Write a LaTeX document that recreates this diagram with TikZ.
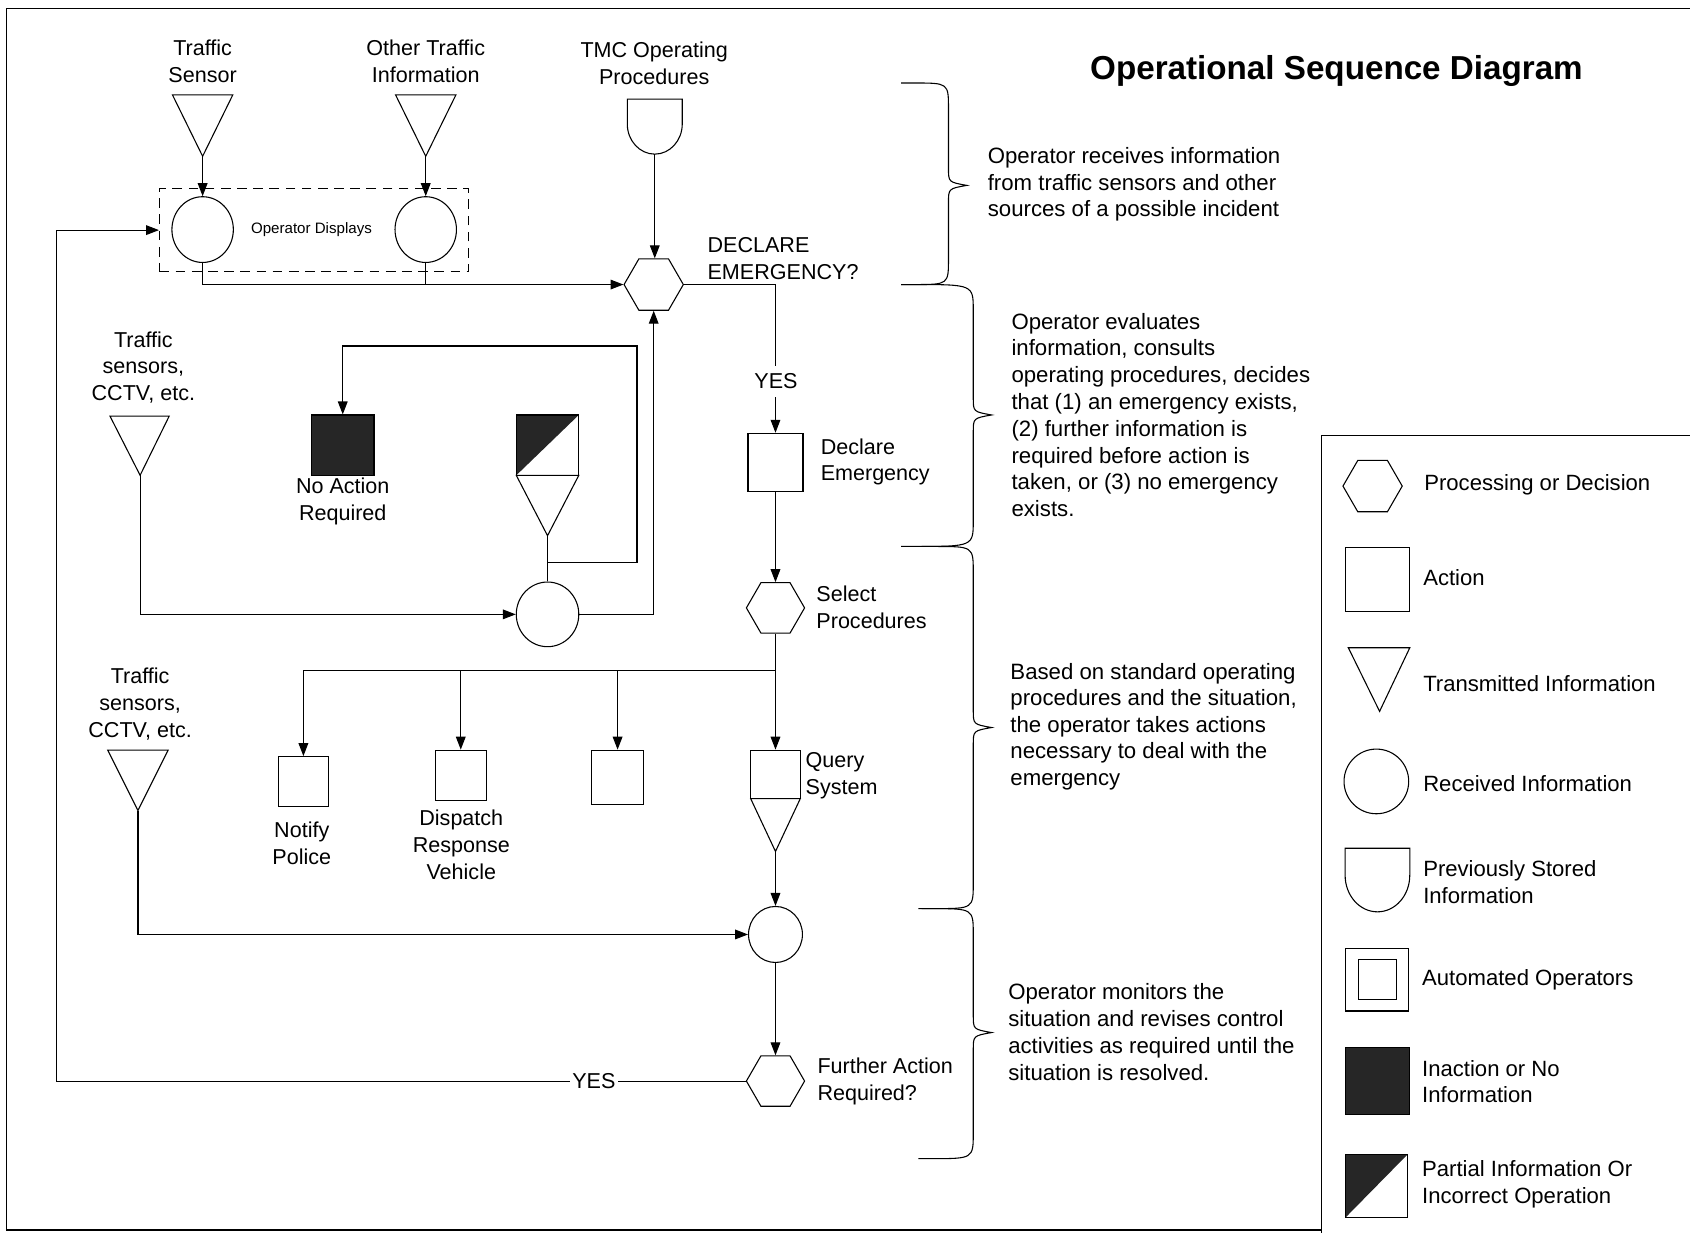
\documentclass[tikz,border=0pt]{standalone}
\usepackage{fontspec}
\setmainfont{Liberation Sans}
\usetikzlibrary{arrows.meta,shapes.geometric}
\newcommand\mybrace[6]{\draw (#1,#2) -- ({#1+12},#2) .. controls (#4,#2) .. (#4,{#2+24}) -- (#4,{#6-16}) .. controls (#4,{#6-3}) .. (#5,#6) .. controls (#4,{#6+3}) .. (#4,{#6+16}) -- (#4,{#3-24}) .. controls (#4,#3) .. ({#1+12},#3) -- (#1,#3);}
\begin{document}
\begin{tikzpicture}[x=1pt,y=-1pt, line width=1pt,
  arr/.style={-{Triangle[length=12pt,width=9pt]}},
  lbl/.style={font=\fontsize{20}{25}\selectfont, align=center, inner sep=0pt},
  txt/.style={font=\fontsize{20}{24.8}\selectfont, align=left, inner sep=0pt, anchor=west},
  lgt/.style={font=\fontsize{20.5}{25}\selectfont, align=left, inner sep=0pt, anchor=west},
  hex/.style={draw, regular polygon, regular polygon sides=6, minimum size=55pt, inner sep=0pt},
  rcv/.style={draw, ellipse, inner sep=0pt},
  act/.style={draw, rectangle, inner sep=0pt},
  dark/.style={fill=black!85}
]
\useasboundingbox (0,0) rectangle (1568,1144);
% frame
\draw[line width=1.5pt] (1568,8) -- (6,8) -- (6,1141) -- (1226,1141);
\draw[line width=1.3pt] (1568,404) -- (1226,404) -- (1226,1144);

% title
\node[font=\bfseries\fontsize{30.8}{32}\selectfont, inner sep=0pt] (title) at (1240,66) {Operational Sequence Diagram};

% top inputs
\node[lbl] (lts) at (188,57) {Traffic\\Sensor};
\node[lbl] (lot) at (395,57) {Other Traffic\\Information};
\node[lbl] (ltmc) at (607,59) {TMC Operating\\Procedures};
\draw (160,88) -- (216,88) -- (188,145) -- cycle; \coordinate (t1) at (188,145);
\draw (367,88) -- (423,88) -- (395,145) -- cycle; \coordinate (t2) at (395,145);
\draw (582,92) -- (582,115) .. controls (582,130.5) and (593.5,143) .. (607.5,143) .. controls (621.5,143) and (633,130.5) .. (633,115) -- (633,92) -- cycle;
\coordinate (tmc) at (607.5,143);

% operator displays
\node[draw, dash pattern=on 9pt off 6pt, minimum width=287pt, minimum height=77pt, inner sep=0pt] (dbox) at (291.5,213.5) {};
\node[rcv, minimum width=57pt, minimum height=61pt] (c1) at (188,213) {};
\node[rcv, minimum width=57pt, minimum height=61pt] (c2) at (395,213) {};
\node[font=\fontsize{14}{16}\selectfont, inner sep=0pt] (odl) at (289,213) {Operator Displays};

% declare emergency decision
\node[hex] (h1) at (606.5,264) {};
\node[txt] (lde) at (656,240) {DECLARE\\EMERGENCY?};

% middle left
\node[lbl] (lts2) at (133,341) {Traffic\\sensors,\\CCTV, etc.};
\draw (102,386) -- (157,386) -- (130,441) -- cycle; \coordinate (t3) at (130,441);
\node[act, dark, minimum width=58pt, minimum height=56pt] (noact) at (318,413) {};
\node[lbl] (lna) at (318,465) {No Action\\Required};
\fill[black!85] (479,385) -- (537,385) -- (479,441) -- cycle;
\node[act, minimum width=58pt, minimum height=56pt] (part) at (508,413) {};
\draw (479,441) -- (537,441) -- (508,497) -- cycle; \coordinate (pt) at (508,497);
\node[rcv, minimum width=58pt, minimum height=60pt] (c3) at (508,570) {};
\coordinate (j1) at (508,522);
\coordinate (k1) at (591,321);

% right column
\node[act, minimum width=51pt, minimum height=54pt] (decl) at (719.5,429) {};
\node[txt] (ldecl) at (761,428.5) {Declare\\Emergency};
\node[hex, minimum size=54pt] (sel) at (719.5,564) {};
\node[txt] (lsel) at (757,563.5) {Select\\Procedures};
\coordinate (br) at (719.5,622);

\node[act, minimum width=47pt, minimum height=46pt] (np) at (281.5,725) {};
\node[lbl] (lnp) at (280,782) {Notify\\Police};
\node[act, minimum width=47pt, minimum height=47pt] (disp) at (427.5,719.5) {};
\node[lbl] (ldisp) at (428,784) {Dispatch\\Response\\Vehicle};
\node[act, minimum width=48pt, minimum height=50pt] (b3) at (573,721) {};
\node[act, minimum width=46pt, minimum height=45pt] (query) at (719.5,718.5) {};
\draw (696.5,741) -- (742.5,741) -- (719.5,790) -- cycle; \coordinate (qt) at (719.5,790);
\node[txt] (lq) at (747,719.5) {Query\\System};

\node[lbl] (lts3) at (130,653) {Traffic\\sensors,\\CCTV, etc.};
\draw (100,696) -- (156,696) -- (128,752) -- cycle; \coordinate (t4) at (128,752);
\node[rcv, minimum width=50pt, minimum height=52pt] (c4) at (719.5,867) {};
\node[hex, minimum size=54pt] (h3) at (719.5,1003) {};
\node[txt] (lh3) at (758,1003.5) {Further Action\\Required?};
\coordinate (fb) at (52,0);

% connectors
\draw[arr] (t1) -- (c1.north);
\draw[arr] (t2) -- (c2.north);
\draw[arr] (tmc) -- (tmc |- h1.north);
\draw[arr] (c1.south) |- (h1.west);
\draw (c2.south) -- (c2.south |- h1.west);
\draw[arr] (h1.east) -| (decl.north);
\node[lbl, fill=white, inner xsep=2pt, inner ysep=7pt] (yes1) at (720,354) {YES};
\draw[arr] (decl.south) -- (sel.north);
\draw (sel.south) -- (br);
\draw[arr] (br) -- (query.north);
\draw[arr] (br) -| (np.north);
\draw[arr] (br) -| (disp.north);
\draw[arr] (br) -| (b3.north);
\draw[arr] (qt) -- (c4.north);
\draw[arr] (t4) |- (c4.west);
\draw[arr] (c4.south) -- (h3.north);
\draw[arr] (h3.west) -- (h3.west -| fb) |- (dbox.west);
\node[lbl, fill=white, inner xsep=2pt, inner ysep=3pt] (yes2) at (551,1003) {YES};
\draw[arr] (t3) |- (c3.west);
\draw[arr] (c3.east) -| (h1.south);
\draw (pt) -- (c3.north);
\draw[arr] (j1) -| (k1) -| (noact.north);

% braces and descriptions
\mybrace{836}{77}{264}{880}{897}{172}
\mybrace{836}{264}{507}{903}{920}{385}
\mybrace{855}{507}{843}{903}{920}{675}
\mybrace{852}{843}{1075}{903}{920}{958}
\node[txt, font=\fontsize{20.6}{24.8}\selectfont] (d1) at (916,171) {Operator receives information\\from traffic sensors and other\\sources of a possible incident};
\node[txt, font=\fontsize{20.6}{24.86}\selectfont] (d2) at (938,385) {Operator evaluates\\information, consults\\operating procedures, decides\\that (1) an emergency exists,\\(2) further information is\\required before action is\\taken, or (3) no emergency\\exists.};
\node[txt, font=\fontsize{20.6}{24.5}\selectfont] (d3) at (937,674) {Based on standard operating\\procedures and the situation,\\the operator takes actions\\necessary to deal with the\\emergency};
\node[txt, font=\fontsize{20.6}{25}\selectfont] (d4) at (935,957.5) {Operator monitors the\\situation and revises control\\activities as required until the\\situation is resolved.};

% legend
\node[hex] (lg1) at (1273.5,451) {};
\node[lgt] (lgt1) at (1321,450) {Processing or Decision};
\node[act, minimum width=60pt, minimum height=59pt] (lg2) at (1278,537.5) {};
\node[lgt] (lgt2) at (1320,536) {Action};
\draw (1251,601) -- (1308,601) -- (1280,660) -- cycle; \coordinate (lg3) at (1280,660);
\node[lgt] (lgt3) at (1320,634) {Transmitted Information};
\node[rcv, minimum width=60pt, minimum height=60pt] (lg4) at (1277,725) {};
\node[lgt] (lgt4) at (1320,727) {Received Information};
\draw (1248,787) -- (1248,812) .. controls (1248,830.8) and (1261.4,846) .. (1278,846) .. controls (1294.6,846) and (1308,830.8) .. (1308,812) -- (1308,787) -- cycle;
\coordinate (lg5) at (1278,846);
\node[lgt] (lgt5) at (1320,818.5) {Previously Stored\\Information};
\node[act, minimum width=59pt, minimum height=58pt] (lg6) at (1277.5,909) {};
\node[act, minimum width=36pt, minimum height=37pt] (lg6i) at (1278,908.5) {};
\node[lgt] (lgt6) at (1319,909) {Automated Operators};
\node[act, dark, minimum width=60pt, minimum height=62pt] (lg7) at (1278,1003) {};
\node[lgt] (lgt7) at (1319,1003.5) {Inaction or No\\Information};
\fill[black!85] (1248,1071) -- (1306,1071) -- (1248,1130) -- cycle;
\node[act, minimum width=58pt, minimum height=59pt] (lg8) at (1277,1100.5) {};
\node[lgt] (lgt8) at (1319,1098.5) {Partial Information Or\\Incorrect Operation};
\end{tikzpicture}
\end{document}
